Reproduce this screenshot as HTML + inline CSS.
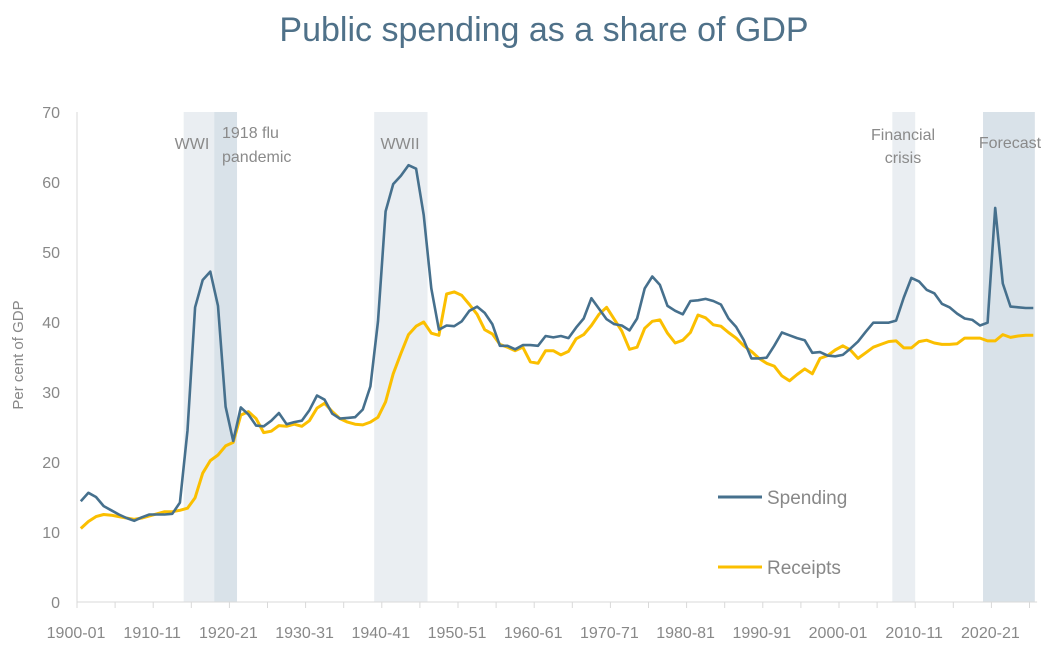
<!DOCTYPE html>
<html><head><meta charset="utf-8"><style>
body{margin:0;background:#fff;}
svg{display:block;font-family:"Liberation Sans",sans-serif;}
</style></head><body>
<svg id="chart" width="1053" height="648" viewBox="0 0 1053 648">
<text x="544" y="41" text-anchor="middle" font-size="34" fill="#4f7189">Public spending as a share of GDP</text>
<g id="bands"></g>
<g id="axes"></g>
<g id="lines"></g>
<text transform="translate(23,355) rotate(-90)" text-anchor="middle" font-size="15" fill="#888">Per cent of GDP</text>
<g>
<line x1="718" y1="497" x2="762" y2="497" stroke="#46708d" stroke-width="3"/>
<text x="767" y="504" font-size="19" fill="#888">Spending</text>
<line x1="718" y1="567" x2="762" y2="567" stroke="#fbbf00" stroke-width="3"/>
<text x="767" y="574" font-size="19" fill="#888">Receipts</text>
</g>
</svg>
<script>
const startYear = 1900;
const spending = [14.4,15.6,15.0,13.7,13.1,12.5,12.0,11.6,12.1,12.5,12.5,12.5,12.6,14.2,24.5,42.1,46.0,47.2,42.3,27.9,
23.0,27.8,26.8,25.2,25.1,25.9,27.0,25.4,25.7,25.9,27.4,29.5,28.9,26.9,26.2,26.3,26.4,27.5,30.8,40.1,
55.8,59.7,60.9,62.4,61.9,55.3,44.8,38.9,39.5,39.4,40.1,41.6,42.2,41.3,39.7,36.6,36.6,36.1,36.7,36.7,
36.6,38.0,37.8,38.0,37.7,39.2,40.5,43.4,41.9,40.4,39.7,39.5,38.8,40.5,44.8,46.5,45.3,42.3,41.6,41.1,
43.0,43.1,43.3,43.0,42.5,40.5,39.3,37.4,34.8,34.8,34.9,36.6,38.5,38.1,37.7,37.4,35.6,35.7,35.2,35.1,
35.3,36.2,37.2,38.6,39.9,39.9,39.9,40.2,43.5,46.3,45.8,44.6,44.1,42.6,42.1,41.2,40.5,40.3,39.5,39.9,
56.3,45.5,42.2,42.1,42.0,42.0];
const receipts = [10.5,11.5,12.2,12.5,12.4,12.2,12.0,11.8,12.0,12.3,12.6,12.9,12.9,13.1,13.4,14.9,18.4,20.2,21.0,22.3,
22.8,26.7,27.2,26.2,24.2,24.4,25.2,25.1,25.4,25.1,25.9,27.7,28.4,27.2,26.2,25.7,25.4,25.3,25.7,26.4,
28.6,32.6,35.5,38.2,39.4,40.0,38.4,38.1,44.0,44.3,43.8,42.5,41.1,38.9,38.3,36.8,36.4,35.9,36.4,34.3,
34.1,35.9,35.9,35.3,35.8,37.6,38.2,39.5,41.1,42.1,40.4,38.7,36.1,36.4,39.1,40.1,40.3,38.4,37.0,37.4,
38.5,41.0,40.6,39.6,39.4,38.5,37.7,36.6,35.8,34.8,34.1,33.7,32.3,31.6,32.5,33.3,32.6,34.8,35.2,36.0,
36.6,36.0,34.8,35.6,36.4,36.8,37.2,37.3,36.3,36.3,37.2,37.4,37.0,36.8,36.8,36.9,37.7,37.7,37.7,37.3,
37.3,38.2,37.8,38.0,38.1,38.1];
const yTicks = [0,10,20,30,40,50,60,70];
const xLabelYears = [1900,1910,1920,1930,1940,1950,1960,1970,1980,1990,2000,2010,2020];
const xLabels = ["1900-01","1910-11","1920-21","1930-31","1940-41","1950-51","1960-61","1970-71","1980-81","1990-91","2000-01","2010-11","2020-21"];
const bandNames = ["wwi","flu-pandemic","wwii","financial-crisis","forecast"];
const bandStart = [1914,1918,1939,2007,2018.9];
const bandEnd = [1918,1921,1946,2010,2025.7];
const bandLabels = [["WWI"],["1918 flu","pandemic"],["WWII"],["Financial","crisis"],["Forecast"]];

const NS="http://www.w3.org/2000/svg";
const X0=77, PXY=7.62, Y0=602, PXV=7.0;
const xScale = y => X0 + (y - startYear) * PXY;
const yScale = v => Y0 - v * PXV;
function mk(tag, attrs, parent){const e=document.createElementNS(NS,tag);for(const k in attrs)e.setAttribute(k,attrs[k]);parent.appendChild(e);return e;}

const bands=document.getElementById('bands');
const bandFill=["#eaeef2","#d9e2e9","#eaeef2","#eaeef2","#d9e2e9"];
const labelCfg=[{x:192,a:"middle",y:[149]},{x:222,a:"start",y:[138,162]},{x:400,a:"middle",y:[149]},{x:903,a:"middle",y:[140,163]},{x:1010,a:"middle",y:[148]}];
bandNames.forEach((n,i)=>{
  const r=mk('rect',{x:xScale(bandStart[i]),y:yScale(70),width:xScale(bandEnd[i])-xScale(bandStart[i]),height:yScale(0)-yScale(70),fill:bandFill[i]},bands);
  
  
});
bandNames.forEach((n,i)=>{
  bandLabels[i].forEach((s,j)=>{
    const t=mk('text',{x:labelCfg[i].x,y:labelCfg[i].y[j],'text-anchor':labelCfg[i].a,'font-size':16,fill:'#8a8a8a'},bands);
    t.textContent=s;
    
    
  });
});

const axes=document.getElementById('axes');
const ya=mk('line',{x1:X0,y1:yScale(70),x2:X0,y2:Y0,stroke:'#d9d9d9','stroke-width':1},axes);


const xa=mk('line',{x1:X0,y1:Y0,x2:xScale(2026),y2:Y0,stroke:'#d9d9d9','stroke-width':1},axes);


yTicks.forEach(v=>{
  const t=mk('text',{x:60,y:yScale(v)+6,'text-anchor':'end','font-size':16,fill:'#888'},axes);
  t.textContent=v;
  
  
});
for(let y=1900;y<=2025;y+=5){
  const tk=mk('line',{x1:xScale(y),y1:Y0,x2:xScale(y),y2:Y0+6,stroke:'#d9d9d9'},axes);
  
  
}
xLabelYears.forEach((y,i)=>{
  const t=mk('text',{x:xScale(y)-1,y:638,'text-anchor':'middle','font-size':16,fill:'#888'},axes);
  t.textContent=xLabels[i];
  
  
});

const lines=document.getElementById('lines');
function path(arr){return arr.map((v,i)=>(i?'L':'M')+xScale(startYear+i+0.5).toFixed(1)+','+yScale(v).toFixed(1)).join(' ');}
const rp=mk('path',{d:path(receipts),fill:'none',stroke:'#fbbf00','stroke-width':3,'stroke-linejoin':'round'},lines);


const sp=mk('path',{d:path(spending),fill:'none',stroke:'#46708d','stroke-width':2.6,'stroke-linejoin':'round'},lines);


</script>
</body></html>
